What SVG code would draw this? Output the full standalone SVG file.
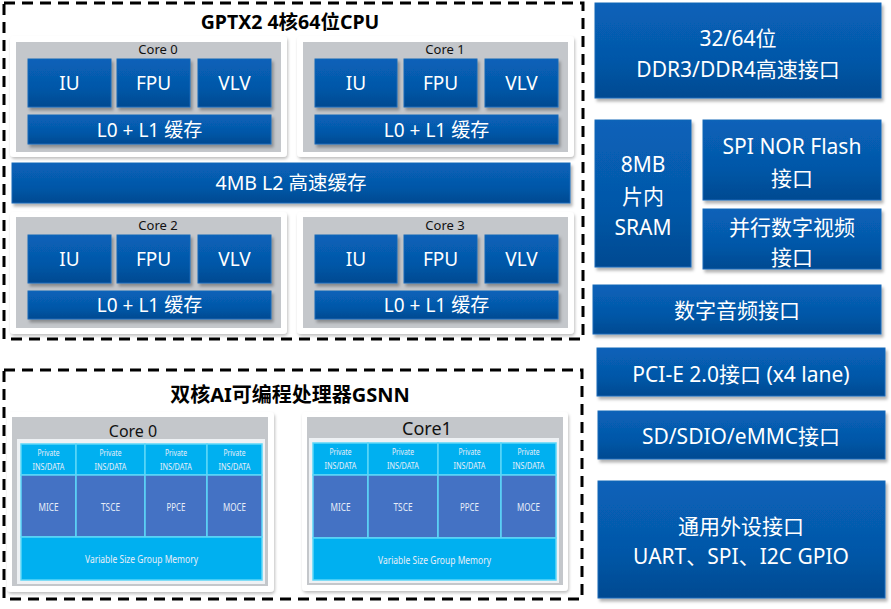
<svg xmlns="http://www.w3.org/2000/svg" width="891" height="609" viewBox="0 0 891 609">
<defs>
<linearGradient id="bg" x1="0" y1="0" x2="0" y2="1">
<stop offset="0" stop-color="#0862b9"/>
<stop offset="0.6" stop-color="#0557a8"/>
<stop offset="1" stop-color="#034a91"/>
</linearGradient>
<filter id="sh" x="-10%" y="-10%" width="130%" height="140%">
<feDropShadow dx="2" dy="3" stdDeviation="1.5" flood-color="#000" flood-opacity="0.3"/>
</filter>
<filter id="sh2" x="-10%" y="-10%" width="130%" height="140%">
<feDropShadow dx="1" dy="2" stdDeviation="1.5" flood-color="#000" flood-opacity="0.25"/>
</filter>
</defs>
<style>
.dash{fill:none;stroke:#000;stroke-width:3;stroke-dasharray:11 7}
.blk{fill:url(#bg);stroke:#1a68b8;stroke-width:1;filter:url(#sh)}
.panel{fill:#fff;filter:url(#sh2)}
.gray{fill:#c4c7cb}
.t{font-family:"Noto Sans","Noto Sans CJK SC",sans-serif;fill:#fff;text-anchor:middle}
.tb{font-family:"Noto Sans","Noto Sans CJK SC",sans-serif;font-weight:bold;fill:#000;text-anchor:middle}
.ct{font-family:"Noto Sans","Noto Sans CJK SC",sans-serif;fill:#111;text-anchor:middle}
.cy{fill:#00b0f0;stroke:#5cd6f7;stroke-width:1.5}
.bl{fill:#4472c4;stroke:#5cd6f7;stroke-width:1.5}
.s{font-family:"Noto Sans",sans-serif;fill:#e8eef8;text-anchor:middle}
</style>

<g id="cpu">
<rect class="dash" x="4" y="3" width="579" height="336"/>
<text class="tb" x="290" y="29" font-size="19.5">GPTX2 4核64位CPU</text>
</g>

<g id="core0">
<rect class="panel" x="10" y="36" width="277" height="121" rx="4"/>
<rect class="gray" x="16" y="42" width="265" height="110"/>
<text class="ct" x="158" y="54" font-size="13">Core 0</text>
<rect class="blk" x="28" y="59" width="83" height="48"/><text class="t" x="69.5" y="90" font-size="19">IU</text>
<rect class="blk" x="117" y="59" width="73" height="48"/><text class="t" x="153.5" y="90" font-size="19">FPU</text>
<rect class="blk" x="198" y="59" width="73" height="48"/><text class="t" x="234.5" y="90" font-size="19">VLV</text>
<rect class="blk" x="28" y="115" width="243" height="29"/><text class="t" x="149.5" y="137" font-size="19">L0 + L1 缓存</text>
</g>

<g id="core1">
<rect class="panel" x="297" y="36" width="277" height="121" rx="4"/>
<rect class="gray" x="303" y="42" width="265" height="110"/>
<text class="ct" x="445" y="54" font-size="13">Core 1</text>
<rect class="blk" x="315" y="59" width="82" height="48"/><text class="t" x="356" y="90" font-size="19">IU</text>
<rect class="blk" x="404" y="59" width="73" height="48"/><text class="t" x="440.5" y="90" font-size="19">FPU</text>
<rect class="blk" x="485" y="59" width="73" height="48"/><text class="t" x="521.5" y="90" font-size="19">VLV</text>
<rect class="blk" x="315" y="115" width="243" height="29"/><text class="t" x="436.5" y="137" font-size="19">L0 + L1 缓存</text>
</g>

<g id="l2">
<rect class="blk" x="12" y="163" width="558" height="40"/>
<text class="t" x="291" y="190" font-size="19.5">4MB L2 高速缓存</text>
</g>

<g id="core2">
<rect class="panel" x="10" y="212" width="277" height="122" rx="4"/>
<rect class="gray" x="16" y="217" width="265" height="111"/>
<text class="ct" x="158" y="230" font-size="13">Core 2</text>
<rect class="blk" x="28" y="235" width="83" height="48"/><text class="t" x="69.5" y="266" font-size="19">IU</text>
<rect class="blk" x="117" y="235" width="73" height="48"/><text class="t" x="153.5" y="266" font-size="19">FPU</text>
<rect class="blk" x="198" y="235" width="73" height="48"/><text class="t" x="234.5" y="266" font-size="19">VLV</text>
<rect class="blk" x="28" y="291" width="243" height="28"/><text class="t" x="149.5" y="312" font-size="19">L0 + L1 缓存</text>
</g>

<g id="core3">
<rect class="panel" x="297" y="212" width="277" height="122" rx="4"/>
<rect class="gray" x="303" y="217" width="265" height="111"/>
<text class="ct" x="445" y="230" font-size="13">Core 3</text>
<rect class="blk" x="315" y="235" width="82" height="48"/><text class="t" x="356" y="266" font-size="19">IU</text>
<rect class="blk" x="404" y="235" width="73" height="48"/><text class="t" x="440.5" y="266" font-size="19">FPU</text>
<rect class="blk" x="485" y="235" width="73" height="48"/><text class="t" x="521.5" y="266" font-size="19">VLV</text>
<rect class="blk" x="315" y="291" width="243" height="28"/><text class="t" x="436.5" y="312" font-size="19">L0 + L1 缓存</text>
</g>

<g id="gsnn">
<rect class="dash" x="4" y="370" width="578" height="229"/>
<text class="tb" x="290" y="402" font-size="20">双核AI可编程处理器GSNN</text>
</g>

<g id="gcore0">
<rect class="panel" x="7" y="412" width="267" height="180" rx="4"/>
<rect class="gray" x="12" y="417" width="256" height="169"/>
<text class="ct" x="133" y="437" font-size="16">Core 0</text>
<rect x="17" y="439" width="248" height="145" fill="#eef1f4"/>
<rect class="cy" x="21" y="444" width="55" height="31"/>
<rect class="cy" x="76" y="444" width="69" height="31"/>
<rect class="cy" x="145" y="444" width="62" height="31"/>
<rect class="cy" x="207" y="444" width="55" height="31"/>
<rect class="bl" x="21" y="475" width="55" height="62"/>
<rect class="bl" x="76" y="475" width="69" height="62"/>
<rect class="bl" x="145" y="475" width="62" height="62"/>
<rect class="bl" x="207" y="475" width="55" height="62"/>
<rect class="cy" x="21" y="537" width="241" height="43"/>
<g class="s" font-size="9">
<text x="48.5" y="456" textLength="22" lengthAdjust="spacingAndGlyphs">Private</text><text x="48.5" y="470" textLength="32" lengthAdjust="spacingAndGlyphs">INS/DATA</text>
<text x="110.5" y="456" textLength="22" lengthAdjust="spacingAndGlyphs">Private</text><text x="110.5" y="470" textLength="32" lengthAdjust="spacingAndGlyphs">INS/DATA</text>
<text x="176" y="456" textLength="22" lengthAdjust="spacingAndGlyphs">Private</text><text x="176" y="470" textLength="32" lengthAdjust="spacingAndGlyphs">INS/DATA</text>
<text x="234.5" y="456" textLength="22" lengthAdjust="spacingAndGlyphs">Private</text><text x="234.5" y="470" textLength="32" lengthAdjust="spacingAndGlyphs">INS/DATA</text>
</g>
<g class="s" font-size="11">
<text x="48.5" y="511" textLength="20" lengthAdjust="spacingAndGlyphs">MICE</text><text x="110.5" y="511" textLength="19" lengthAdjust="spacingAndGlyphs">TSCE</text><text x="176" y="511" textLength="19" lengthAdjust="spacingAndGlyphs">PPCE</text><text x="234.5" y="511" textLength="23" lengthAdjust="spacingAndGlyphs">MOCE</text>
<text x="141.5" y="563" textLength="113" lengthAdjust="spacingAndGlyphs">Variable Size Group Memory</text>
</g>
</g>

<g id="gcore1">
<rect class="panel" x="302" y="412" width="266" height="179" rx="4"/>
<rect class="gray" x="307" y="417" width="256" height="168"/>
<text class="ct" x="427" y="435" font-size="18">Core1</text>
<rect x="309" y="438" width="250" height="145" fill="#eef1f4"/>
<rect class="cy" x="313" y="443" width="55" height="32"/>
<rect class="cy" x="368" y="443" width="70" height="32"/>
<rect class="cy" x="438" y="443" width="63" height="32"/>
<rect class="cy" x="501" y="443" width="55" height="32"/>
<rect class="bl" x="313" y="475" width="55" height="63"/>
<rect class="bl" x="368" y="475" width="70" height="63"/>
<rect class="bl" x="438" y="475" width="63" height="63"/>
<rect class="bl" x="501" y="475" width="55" height="63"/>
<rect class="cy" x="313" y="538" width="243" height="42"/>
<g class="s" font-size="9">
<text x="340.5" y="455" textLength="22" lengthAdjust="spacingAndGlyphs">Private</text><text x="340.5" y="469" textLength="32" lengthAdjust="spacingAndGlyphs">INS/DATA</text>
<text x="403" y="455" textLength="22" lengthAdjust="spacingAndGlyphs">Private</text><text x="403" y="469" textLength="32" lengthAdjust="spacingAndGlyphs">INS/DATA</text>
<text x="469.5" y="455" textLength="22" lengthAdjust="spacingAndGlyphs">Private</text><text x="469.5" y="469" textLength="32" lengthAdjust="spacingAndGlyphs">INS/DATA</text>
<text x="528.5" y="455" textLength="22" lengthAdjust="spacingAndGlyphs">Private</text><text x="528.5" y="469" textLength="32" lengthAdjust="spacingAndGlyphs">INS/DATA</text>
</g>
<g class="s" font-size="11">
<text x="340.5" y="511" textLength="20" lengthAdjust="spacingAndGlyphs">MICE</text><text x="403" y="511" textLength="19" lengthAdjust="spacingAndGlyphs">TSCE</text><text x="469.5" y="511" textLength="19" lengthAdjust="spacingAndGlyphs">PPCE</text><text x="528.5" y="511" textLength="23" lengthAdjust="spacingAndGlyphs">MOCE</text>
<text x="434.5" y="564" textLength="113" lengthAdjust="spacingAndGlyphs">Variable Size Group Memory</text>
</g>
</g>

<g id="ddr">
<rect class="blk" x="595" y="3" width="286" height="95"/>
<text class="t" x="738" y="46" font-size="21">32/64位</text>
<text class="t" x="738" y="77" font-size="21">DDR3/DDR4高速接口</text>
</g>
<g id="sram">
<rect class="blk" x="595" y="120" width="96" height="147"/>
<text class="t" x="643" y="172" font-size="21">8MB</text>
<text class="t" x="643" y="204" font-size="21">片内</text>
<text class="t" x="643" y="235" font-size="21">SRAM</text>
</g>
<g id="spi">
<rect class="blk" x="703" y="120" width="178" height="80"/>
<text class="t" x="792" y="154" font-size="21">SPI NOR Flash</text>
<text class="t" x="792" y="186" font-size="21">接口</text>
</g>
<g id="video">
<rect class="blk" x="703" y="209" width="178" height="60"/>
<text class="t" x="792" y="235" font-size="21">并行数字视频</text>
<text class="t" x="792" y="265" font-size="21">接口</text>
</g>
<g id="audio">
<rect class="blk" x="593" y="285" width="288" height="49"/>
<text class="t" x="737" y="318" font-size="21">数字音频接口</text>
</g>
<g id="pcie">
<rect class="blk" x="597" y="348" width="288" height="48"/>
<text class="t" x="741" y="382" font-size="21">PCI-E 2.0接口 (x4 lane)</text>
</g>
<g id="sd">
<rect class="blk" x="598" y="411" width="287" height="48"/>
<text class="t" x="741" y="444" font-size="21">SD/SDIO/eMMC接口</text>
</g>
<g id="gpio">
<rect class="blk" x="598" y="481" width="287" height="117"/>
<text class="t" x="741" y="534" font-size="21">通用外设接口</text>
<text class="t" x="741" y="564" font-size="21">UART、SPI、I2C GPIO</text>
</g>
</svg>
